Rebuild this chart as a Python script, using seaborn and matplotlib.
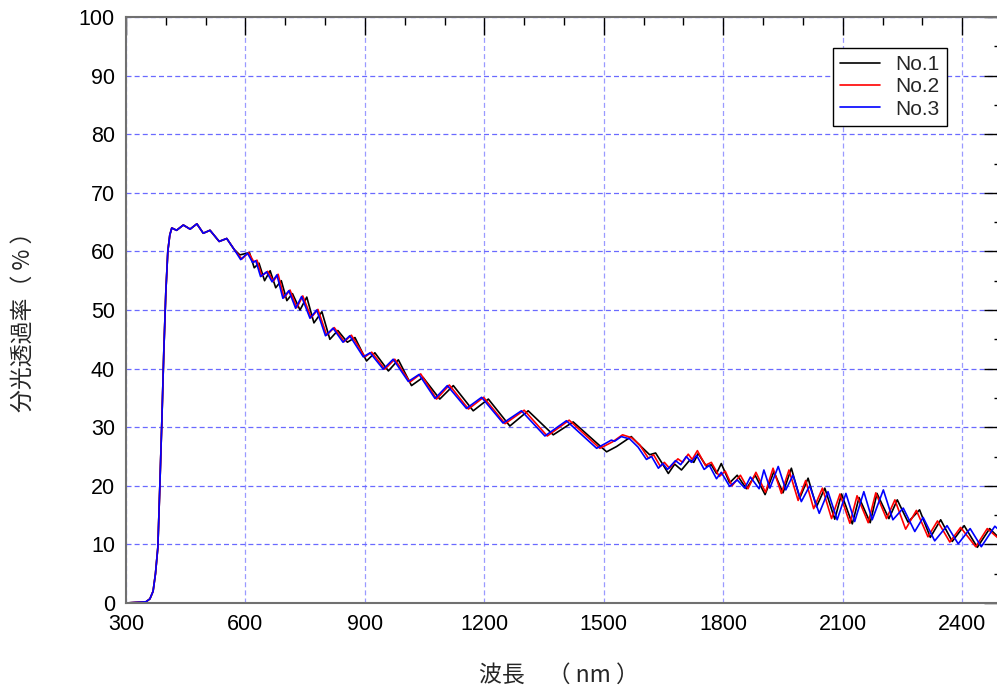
import matplotlib
matplotlib.use("Agg")
import matplotlib.pyplot as plt
from matplotlib.ticker import MultipleLocator
import seaborn as sns
import pandas as pd

# values (wavelength in nm, transmittance in %)
rise_wl = [300, 350, 360, 368, 374, 380, 385, 390, 395, 400, 405, 410, 415,
           427, 444, 461, 478, 494, 511, 534, 553, 572]
rise_t = [0.0, 0.2, 0.7, 2.0, 5.0, 9.5, 20.0, 31.0, 43.0, 53.0, 60.0, 62.8, 64.0,
          63.6, 64.5, 63.8, 64.7, 63.1, 63.6, 61.7, 62.2, 60.3]

no1_wl = [586, 610, 622, 634, 648, 662, 676, 690, 704, 718, 737, 754, 772, 792,
          812, 832, 856, 875, 904, 925, 959, 984, 1017, 1046, 1088, 1122, 1172,
          1210, 1264, 1310, 1373, 1423, 1507, 1532, 1569, 1586, 1615, 1630, 1645,
          1662, 1678, 1695, 1716, 1726, 1737, 1758, 1770, 1783, 1795, 1816, 1835,
          1858, 1880, 1905, 1927, 1950, 1971, 1992, 2013, 2034, 2055, 2080, 2097,
          2124, 2141, 2169, 2186, 2216, 2237, 2264, 2293, 2320, 2346, 2375, 2405,
          2438, 2469, 2500]
no1_t = [59.4, 59.8, 57.2, 58.0, 55.0, 56.7, 53.8, 55.0, 51.6, 52.8, 50.0, 52.2,
         47.8, 49.7, 45.0, 46.5, 44.5, 45.3, 41.3, 42.7, 39.6, 41.5, 37.1, 38.5,
         34.8, 37.1, 32.8, 34.8, 30.2, 32.8, 28.7, 30.9, 25.8, 26.7, 28.4, 27.2,
         25.3, 25.6, 24.0, 22.1, 23.7, 22.7, 24.4, 24.0, 25.5, 23.3, 23.6, 22.1,
         23.8, 20.5, 21.8, 19.5, 21.8, 18.5, 22.4, 18.8, 23.0, 17.9, 21.3, 16.4,
         19.6, 14.3, 18.6, 13.5, 18.0, 13.7, 18.7, 14.4, 17.6, 13.8, 15.9, 11.2,
         14.2, 10.5, 13.2, 9.5, 12.7, 10.6]

no2_wl = [591, 608, 621, 629, 641, 656, 670, 682, 697, 712, 729, 744, 765, 782,
          804, 823, 848, 866, 900, 917, 950, 975, 1013, 1040, 1080, 1112, 1160,
          1198, 1252, 1300, 1358, 1413, 1490, 1522, 1547, 1570, 1590, 1612, 1625,
          1642, 1652, 1665, 1686, 1698, 1712, 1722, 1735, 1755, 1770, 1790, 1805,
          1822, 1843, 1862, 1882, 1906, 1925, 1946, 1965, 1988, 2007, 2027, 2049,
          2072, 2093, 2118, 2136, 2164, 2183, 2210, 2231, 2258, 2285, 2314, 2338,
          2369, 2396, 2434, 2463, 2500]
no2_t = [58.7, 59.8, 58.2, 58.5, 55.8, 56.6, 54.9, 56.1, 52.1, 53.4, 50.4, 52.4,
         48.7, 50.1, 45.7, 47.0, 44.6, 45.7, 42.0, 42.8, 39.9, 41.6, 37.7, 39.1,
         34.8, 37.2, 33.1, 35.1, 30.6, 32.9, 28.5, 31.2, 26.4, 27.5, 28.7, 28.2,
         27.0, 24.7, 25.3, 23.3, 24.0, 23.0, 24.6, 24.0, 25.4, 24.5, 26.0, 23.5,
         24.0, 21.6, 22.5, 20.0, 21.8, 19.5, 22.3, 18.9, 23.0, 18.7, 22.7, 17.5,
         20.9, 16.1, 19.6, 14.4, 18.6, 13.6, 18.3, 13.7, 18.8, 14.4, 17.6, 12.6,
         15.8, 11.3, 14.0, 10.4, 12.9, 9.6, 12.7, 10.5]

no3_wl = [588, 605, 618, 626, 638, 653, 667, 679, 694, 709, 726, 741, 762, 779,
          801, 820, 845, 862, 896, 913, 946, 971, 1009, 1036, 1076, 1107, 1155,
          1193, 1247, 1293, 1352, 1406, 1482, 1519, 1527, 1544, 1565, 1586, 1607,
          1620, 1637, 1648, 1660, 1680, 1693, 1707, 1720, 1733, 1752, 1765, 1783,
          1795, 1816, 1835, 1854, 1868, 1890, 1902, 1917, 1938, 1957, 1975, 1996,
          2017, 2041, 2063, 2086, 2108, 2130, 2153, 2174, 2202, 2226, 2252, 2281,
          2302, 2331, 2362, 2390, 2420, 2448, 2482, 2500]
no3_t = [58.6, 59.7, 58.1, 58.4, 55.7, 56.5, 54.8, 56.0, 52.0, 53.3, 50.3, 52.3,
         48.6, 50.0, 45.6, 46.9, 44.5, 45.6, 42.0, 42.7, 39.9, 41.6, 37.8, 39.0,
         34.9, 37.1, 33.2, 35.1, 30.7, 32.8, 28.5, 31.1, 26.4, 27.8, 27.6, 28.4,
         28.0, 26.6, 24.5, 25.0, 23.0, 23.8, 22.8, 24.3, 23.6, 25.0, 24.0, 25.2,
         22.8, 23.5, 21.2, 22.3, 19.9, 21.0, 19.6, 21.5, 19.5, 22.7, 19.6, 23.3,
         19.3, 21.8, 17.3, 20.0, 15.3, 19.0, 14.2, 18.7, 13.9, 19.0, 14.2, 19.3,
         14.2, 16.2, 12.2, 14.6, 10.6, 13.2, 10.1, 12.7, 9.6, 13.1, 12.0]

labels = ["No.1", "No.2", "No.3"]
colors = ["#000000", "#ff0000", "#0000ff"]

frames = []
for name, wl, t in zip(labels, [no1_wl, no2_wl, no3_wl], [no1_t, no2_t, no3_t]):
    frames.append(pd.DataFrame({"wl": rise_wl + wl, "T": rise_t + t, "sample": name}))
df = pd.concat(frames, ignore_index=True)

sns.set_theme(style="white")
plt.rcParams["font.family"] = ["Liberation Sans", "DejaVu Sans"]
cjk = ["Noto Sans CJK JP", "DejaVu Sans"]

fig = plt.figure(figsize=(9.97, 6.93), dpi=100)
ax = fig.add_axes([126 / 997, 90 / 693, 876 / 997, 586 / 693])

sns.lineplot(data=df, x="wl", y="T", hue="sample", palette=colors,
             estimator=None, sort=True, linewidth=1.2, legend=False, ax=ax)

ax.set_xlim(300, 2500)
ax.set_ylim(0, 100)
ax.xaxis.set_major_locator(MultipleLocator(300))
ax.xaxis.set_minor_locator(MultipleLocator(100))
ax.yaxis.set_major_locator(MultipleLocator(10))
ax.yaxis.set_minor_locator(MultipleLocator(5))

ax.set_axisbelow(True)
ax.xaxis.grid(True, which="major", color="#9a9aff", linestyle=(0, (4, 2.5)), linewidth=0.9)
ax.yaxis.grid(True, which="major", color="#6a6aff", linestyle=(0, (4, 2.5)), linewidth=0.9)

ax.tick_params(which="both", direction="in", top=True, right=True, colors="black",
               labelsize=15.5, width=1.0)
ax.tick_params(which="major", length=13)
ax.tick_params(which="minor", length=6)
ax.tick_params(axis="x", pad=8)
ax.tick_params(axis="y", pad=8)

for sp in ax.spines.values():
    sp.set_color("#707070")
    sp.set_linewidth(1.5)

ax.set_xlabel("")
ax.set_ylabel("")
fig.text(0.561, 0.025, "波長　（ nm ）", ha="center", va="center",
         fontsize=16.5, family=cjk)
fig.text(0.023, 1 - 316 / 693, "分光透過率（ % ）", ha="center", va="center",
         rotation=90, fontsize=16.5, family=cjk)

handles = [plt.Line2D([], [], color=c, linewidth=1.2) for c in colors]
leg = ax.legend(handles, labels, loc="upper left",
                bbox_to_anchor=(833 / 997, 1 - 48 / 693), bbox_transform=fig.transFigure,
                fontsize=15, frameon=True, fancybox=False, framealpha=1,
                edgecolor="black", handlelength=1.9, handletextpad=0.75,
                labelspacing=0.15, borderpad=0.35, borderaxespad=0)
leg.get_frame().set_linewidth(1.0)

fig.savefig("out.png", dpi=100)
